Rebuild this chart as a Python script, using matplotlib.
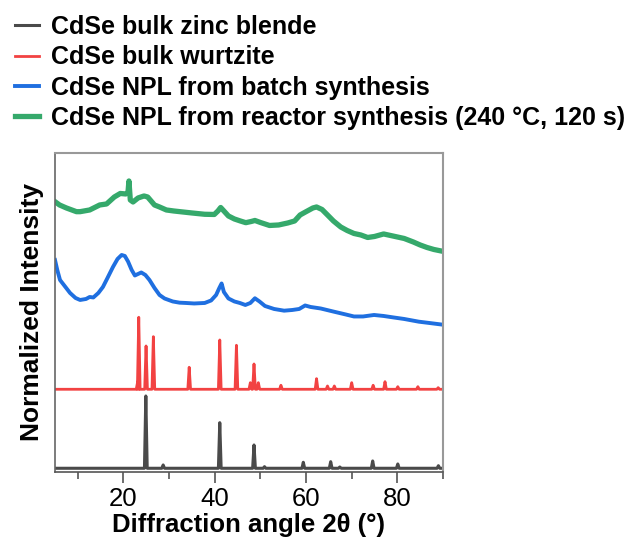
import matplotlib.pyplot as plt
from matplotlib.ticker import MultipleLocator

plt.rcParams['font.family'] = ['Liberation Sans', 'DejaVu Sans']

# NPL from reactor synthesis (green)
reactor_x = [5.0, 6.0, 7.5, 9.7, 10.5, 12.6, 14.8, 16.3, 18.0, 19.3, 20.5, 21.0, 21.2, 21.5,
             22.1, 23.2, 24.5, 25.3, 26.8, 27.9, 29.4, 31.0, 33.0, 35.0, 37.8, 39.9, 40.7,
             41.3, 42.0, 43.0, 44.3, 45.6, 46.8, 48.0, 48.8, 50.0, 52.0, 54.0, 56.0, 57.5,
             58.7, 60.0, 61.5, 62.3, 63.5, 64.7, 66.0, 67.6, 69.0, 70.5, 72.0, 73.5, 75.0,
             77.0, 78.5, 80.0, 81.5, 83.5, 85.0, 86.5, 88.0, 89.6]
reactor_y = [270.3, 267, 264, 260.3, 260.3, 262, 267, 268, 275, 278.5, 278, 280, 291, 272,
             270, 274, 276, 275, 267, 265, 262, 261, 260, 259, 257.7, 257.5, 261,
             264.5, 261, 256, 253, 251, 249.3, 250.5, 251.5, 249.5, 246.5, 247, 249, 251,
             257, 260.3, 264, 265, 262.5, 257, 251, 245, 241.5, 238.5, 237, 234.5, 235.5,
             238, 236.5, 235, 233.5, 230, 227, 224.5, 222.5, 221]

# NPL from batch synthesis (blue)
batch_x = [5.0, 5.5, 6.1, 7.2, 8.3, 9.5, 10.5, 11.8, 12.6, 13.4, 14.5, 15.5, 16.5, 17.7,
           18.7, 19.6, 20.3, 21.0, 21.8, 22.5, 23.2, 23.9, 24.8, 25.7, 26.8, 27.9, 29.0,
           30.8, 32.3, 33.7, 35.5, 37.8, 39.2, 40.3, 41.0, 41.5, 42.0, 43.0, 44.3, 45.5,
           46.7, 47.8, 48.8, 49.8, 51.0, 53.0, 55.2, 57.0, 58.5, 59.8, 61.0, 63.2, 66.1,
           68.7, 70.5, 72.5, 74.9, 77.0, 79.2, 81.5, 84.7, 87.0, 89.6]
batch_y = [212, 202, 192, 185.5, 179, 174, 172, 173, 175, 174.5, 179, 185, 194, 205,
           213, 217, 216, 210.5, 202, 196.5, 198, 199.5, 197, 192, 184, 177, 173.5,
           170.5, 169.3, 169, 168.5, 169, 171.5, 177, 184, 188.5, 180, 173.5, 170.5, 169,
           167, 169, 173.7, 170.5, 166, 163, 161.3, 162, 163, 166.5, 165, 163.5, 160.3,
           157.5, 155.5, 155.5, 157, 156, 154.5, 153, 150.3, 149, 147.5]

# bulk wurtzite reference peaks (red)
wurtzite_base = 82.7
wurtzite_pos = [23.1, 23.35, 24.95, 26.55, 34.4, 41.1, 44.75, 47.8, 48.6, 49.55, 54.5,
                62.3, 64.7, 66.2, 70.0, 74.7, 77.3, 80.1, 84.5, 88.95]
wurtzite_top = [90, 154.7, 126, 135.3, 104.7, 132, 126.7, 89.3, 108, 89.3, 86.7,
                93.3, 86, 86, 89.3, 86.7, 90.3, 85.3, 85.3, 84.3]

# bulk zinc blende reference peaks (gray)
zincblende_base = 3.7
zincblende_pos = [24.9, 28.7, 41.1, 48.6, 50.9, 59.4, 65.4, 67.4, 74.6, 80.1, 89.0]
zincblende_top = [76, 7, 49.3, 27, 5.3, 9.7, 10.3, 5, 11, 8, 6.3]


def stick_line(pos, top, base, w=0.3):
    xs, ys = [5.0], [base]
    for p, t in zip(pos, top):
        xs += [p - w, p, p + w]
        ys += [base, t, base]
    xs.append(90.0)
    ys.append(base)
    return xs, ys


fig = plt.figure(figsize=(6.35, 5.44), dpi=100)
ax = fig.add_axes([0.0866, 0.1324, 0.611, 0.5864])

zx, zy = stick_line(zincblende_pos, zincblende_top, zincblende_base)
wx, wy = stick_line(wurtzite_pos, wurtzite_top, wurtzite_base)

ax.plot(zx, zy, color='#4a4a4a', lw=2.2, label='CdSe bulk zinc blende')
ax.plot(wx, wy, color='#f24242', lw=2.0, label='CdSe bulk wurtzite')
ax.plot(batch_x, batch_y, color='#1f6fe0', lw=2.8, label='CdSe NPL from batch synthesis')
ax.plot(reactor_x, reactor_y, color='#35a96b', lw=3.8,
        label='CdSe NPL from reactor synthesis (240 °C, 120 s)')

ax.set_xlim(5, 90)
ax.set_ylim(0, 319)
ax.set_yticks([])
ax.xaxis.set_major_locator(MultipleLocator(20))
ax.xaxis.set_minor_locator(MultipleLocator(10))
ax.tick_params(axis='x', which='major', direction='out', length=8, width=1.2,
               color='#555555', labelsize=18.5, pad=3)
ax.tick_params(axis='x', which='minor', direction='out', length=5, width=1.2, color='#555555')
for side in ['top', 'right']:
    ax.spines[side].set_color('#999999')
    ax.spines[side].set_linewidth(1.5)
ax.spines['left'].set_color('#666666')
ax.spines['bottom'].set_color('#555555')
ax.spines['left'].set_linewidth(1.2)
ax.spines['bottom'].set_linewidth(1.2)

ax.set_xlabel('Diffraction angle 2θ (°)', fontsize=18.5, fontweight='bold', labelpad=1)
ax.set_ylabel('Normalized Intensity', fontsize=19, fontweight='bold', labelpad=8)

fig.legend(loc='upper left', bbox_to_anchor=(0.0, 1.0), frameon=False,
           prop={'size': 18, 'weight': 'bold'}, handlelength=0.95, handletextpad=0.5,
           labelspacing=0.25, borderaxespad=0.3, borderpad=0.3)

fig.savefig('out.png', dpi=100)
